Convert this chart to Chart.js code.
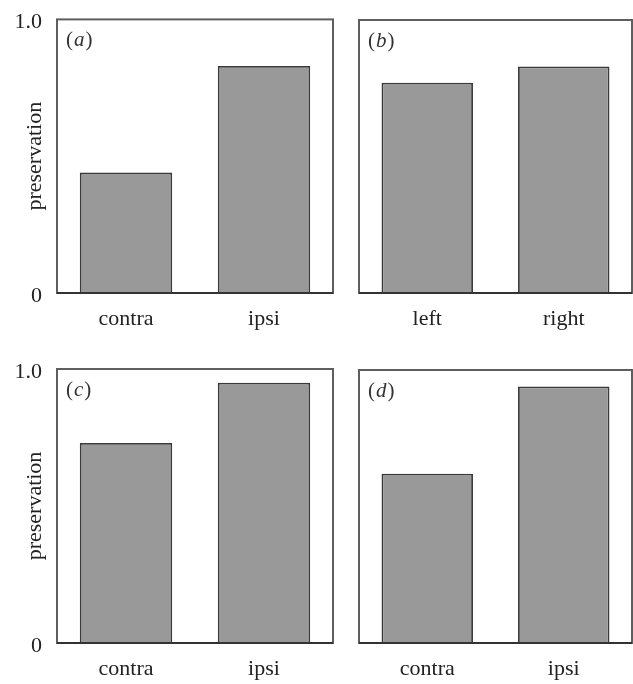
<!DOCTYPE html>
<html>
<head>
<meta charset="utf-8">
<script src="https://cdn.jsdelivr.net/npm/chart.js@4.4.0/dist/chart.umd.min.js"></script>
<style>
    html, body { margin: 0; padding: 0; background: #fff; }
    #wrap { position: relative; width: 633px; height: 684px; overflow: hidden; }
    .panel { position: absolute; }
</style>
</head>
<body>
<div id="wrap">
    <div class="panel" style="left:0;top:0"><canvas id="chartA" width="345" height="340"></canvas></div>
    <div class="panel" style="left:345px;top:0"><canvas id="chartB" width="288" height="340"></canvas></div>
    <div class="panel" style="left:0;top:340px"><canvas id="chartC" width="345" height="344"></canvas></div>
    <div class="panel" style="left:345px;top:340px"><canvas id="chartD" width="288" height="344"></canvas></div>
</div>
<script>
// Data
const catsA = ["contra", "ipsi"];
const valsA = [0.44, 0.83];
const catsB = ["left", "right"];
const valsB = [0.77, 0.83];
const catsC = ["contra", "ipsi"];
const valsC = [0.73, 0.95];
const catsD = ["contra", "ipsi"];
const valsD = [0.62, 0.94];
const yTicks = [0, 1];
const yTickLabels = ["0", "1.0"];
const yTitle = "preservation";

const serif = "'Liberation Serif', 'DejaVu Serif', serif";

// Frame around the plot area + panel letter like "(a)"
const framePlugin = {
    id: "frame",
    afterDraw(chart, args, opts) {
        const { ctx, chartArea: a } = chart;
        ctx.save();
        ctx.strokeStyle = "#5e5e5e";
        ctx.lineWidth = 2;
        ctx.strokeRect(a.left, a.top, a.right - a.left, a.bottom - a.top);
        ctx.strokeStyle = "#333";
        ctx.lineWidth = 2.2;
        ctx.beginPath();
        ctx.moveTo(a.left, a.bottom);
        ctx.lineTo(a.right, a.bottom);
        ctx.stroke();

        // panel letter
        ctx.fillStyle = "#333";
        ctx.textBaseline = "middle";
        let x = a.left + 9;
        const y = a.top + 21;
        ctx.font = "21px " + serif;
        ctx.fillText("(", x, y);
        x += ctx.measureText("(").width + 1;
        ctx.font = "italic 21px " + serif;
        ctx.fillText(opts.letter, x, y);
        x += ctx.measureText(opts.letter).width + 1;
        ctx.font = "21px " + serif;
        ctx.fillText(")", x, y);
        ctx.restore();
    },
};

function makeChart(id, cats, vals, letter, box) {
    const showY = box.yWidth > 0;
    return new Chart(document.getElementById(id), {
        type: "bar",
        data: {
            labels: cats,
            datasets: [
                {
                    data: vals,
                    backgroundColor: "#999999",
                    borderColor: "#3a3a3a",
                    borderWidth: 1.8,
                    barPercentage: 0.67,
                    categoryPercentage: 1,
                },
            ],
        },
        options: {
            responsive: false,
            animation: false,
            devicePixelRatio: 1,
            layout: {
                padding: { left: box.padLeft, right: box.padRight, top: box.padTop, bottom: 0 },
            },
            plugins: {
                legend: { display: false },
                tooltip: { enabled: false },
                frame: { letter: letter },
            },
            scales: {
                x: {
                    grid: { display: false, drawTicks: false },
                    border: { display: false },
                    ticks: {
                        color: "#222",
                        padding: 13,
                        font: { family: serif, size: 22 },
                    },
                    afterFit: (s) => { s.height = box.xHeight; },
                },
                y: {
                    display: showY,
                    min: 0,
                    max: 1,
                    grid: { display: false, drawTicks: false },
                    border: { display: false },
                    afterBuildTicks: (s) => { s.ticks = yTicks.map((v) => ({ value: v })); },
                    ticks: {
                        color: "#222",
                        padding: 15,
                        labelOffset: 3,
                        font: { family: serif, size: 22, lineHeight: 0.4 },
                        callback: (v) => yTickLabels[yTicks.indexOf(v)],
                    },
                    title: {
                        display: true,
                        text: yTitle,
                        color: "#222",
                        padding: { top: 22, bottom: 0 },
                        font: { family: serif, size: 22 },
                    },
                    afterFit: (s) => { s.width = box.yWidth; },
                },
            },
        },
        plugins: [framePlugin],
    });
}

makeChart("chartA", catsA, valsA, "a", { yWidth: 57, padLeft: 0, padRight: 12, padTop: 19, xHeight: 47 });
makeChart("chartB", catsB, valsB, "b", { yWidth: 0, padLeft: 14, padRight: 1, padTop: 20, xHeight: 47 });
makeChart("chartC", catsC, valsC, "c", { yWidth: 57, padLeft: 0, padRight: 12, padTop: 29, xHeight: 41 });
makeChart("chartD", catsD, valsD, "d", { yWidth: 0, padLeft: 14, padRight: 1, padTop: 30, xHeight: 41 });
</script>
</body>
</html>
